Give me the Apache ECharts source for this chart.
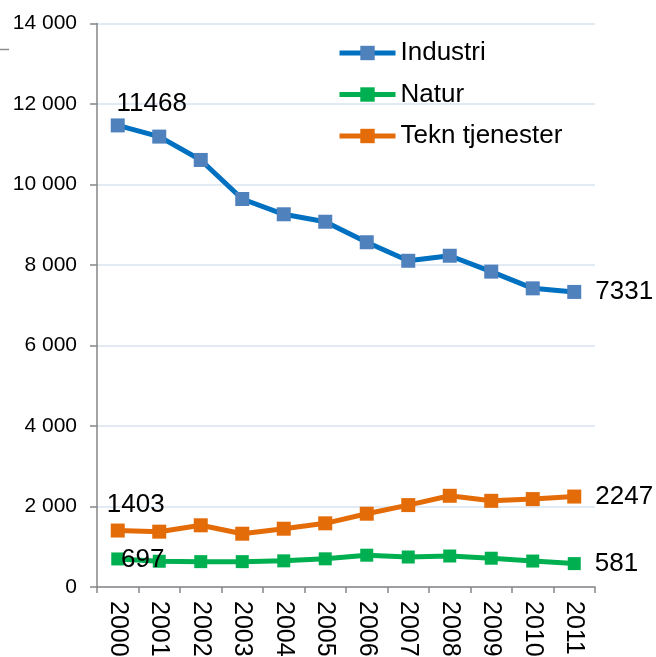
<!DOCTYPE html>
<html>
<head>
<meta charset="utf-8">
<script src="https://cdn.jsdelivr.net/npm/echarts@6/dist/echarts.min.js"></script>
<style>
  html, body { margin: 0; padding: 0; background: #fff; }
  #chart { width: 656px; height: 657px; }
</style>
</head>
<body>
<div id="chart"></div>
<script>
// Employment by field, 2000–2011
const years = ['2000','2001','2002','2003','2004','2005','2006','2007','2008','2009','2010','2011'];
const industri = [11468, 11190, 10610, 9640, 9260, 9075, 8565, 8105, 8230, 7835, 7420, 7331];
const natur = [697, 640, 630, 630, 650, 700, 790, 745, 770, 715, 645, 581];
const tekn = [1403, 1375, 1533, 1324, 1448, 1582, 1821, 2035, 2266, 2141, 2184, 2247];
const yTicks = [0, 2000, 4000, 6000, 8000, 10000, 12000, 14000];

const FONT = 'Liberation Sans, Arial, sans-serif';

// Show the value at the first and last point of a series
function withEndLabels(values, firstLabel) {
  return values.map((v, i) => {
    if (i === 0) return { value: v, label: Object.assign({ show: true }, firstLabel) };
    if (i === values.length - 1) {
      return { value: v, label: { show: true, position: 'right', distance: 14 } };
    }
    return v;
  });
}

const labelText = { color: '#000', fontSize: 26, fontFamily: FONT };

function lineSeries(name, values, lineColor, markerColor, size, firstLabel) {
  return {
    name: name,
    type: 'line',
    data: withEndLabels(values, firstLabel),
    symbol: 'rect',
    symbolSize: size,
    showAllSymbol: true,
    lineStyle: { color: lineColor, width: 5 },
    itemStyle: { color: markerColor, borderWidth: 0 },
    label: Object.assign({ show: false, formatter: '{c}' }, labelText),
    emphasis: { disabled: true },
    animation: false
  };
}

const legendItem = name => ({ name: name, lineStyle: { width: 5 } });

const chart = echarts.init(document.getElementById('chart'), null, { renderer: 'canvas' });
chart.setOption({
  backgroundColor: '#fff',
  animation: false,
  grid: {
    left: 97, right: 61, top: 23.5, bottom: 70,
    containLabel: false,
    outerBoundsMode: 'none'
  },
  legend: {
    orient: 'vertical',
    left: 337,
    top: 39.5,
    padding: 0,
    itemWidth: 56,
    itemHeight: 18,
    itemGap: 14.5,
    lineStyle: { width: 5 },
    textStyle: { color: '#000', fontSize: 26, fontFamily: FONT, lineHeight: 27 },
    data: [legendItem('Industri'), legendItem('Natur'), legendItem('Tekn tjenester')]
  },
  xAxis: {
    type: 'category',
    data: years,
    boundaryGap: true,
    axisLine: { lineStyle: { color: '#868686', width: 1.5 } },
    axisTick: { show: true, length: 6, lineStyle: { color: '#868686', width: 1.5 } },
    axisLabel: { rotate: -90, margin: 14, color: '#000', fontSize: 25, fontFamily: FONT, interval: 0 },
    splitLine: { show: false }
  },
  yAxis: {
    type: 'value',
    min: yTicks[0],
    max: yTicks[yTicks.length - 1],
    interval: 2000,
    axisLine: { show: true, lineStyle: { color: '#868686', width: 1.5 } },
    axisTick: { show: true, length: 7, lineStyle: { color: '#868686', width: 1.5 } },
    axisLabel: {
      margin: 20,
      color: '#000',
      fontSize: 21,
      fontFamily: FONT,
      formatter: v => String(v).replace(/\B(?=(\d{3})+(?!\d))/g, ' ')
    },
    splitLine: { show: true, lineStyle: { color: '#D9E3F1', width: 1.5 } }
  },
  series: [
    lineSeries('Industri', industri, '#0070C0', '#4F81BD', 14,
      { position: 'top', distance: 5, offset: [34, 3] }),
    lineSeries('Natur', natur, '#00B050', '#00B050', 13,
      { position: 'inside', offset: [25, 1] }),
    lineSeries('Tekn tjenester', tekn, '#E36C09', '#E36C09', 14,
      { position: 'top', distance: 5, offset: [18, -1] })
  ],
  graphic: [{
    type: 'line',
    shape: { x1: 0, y1: 49.5, x2: 9, y2: 49.5 },
    style: { stroke: '#8C8C8C', lineWidth: 1.5 },
    silent: true
  }]
});
</script>
</body>
</html>
